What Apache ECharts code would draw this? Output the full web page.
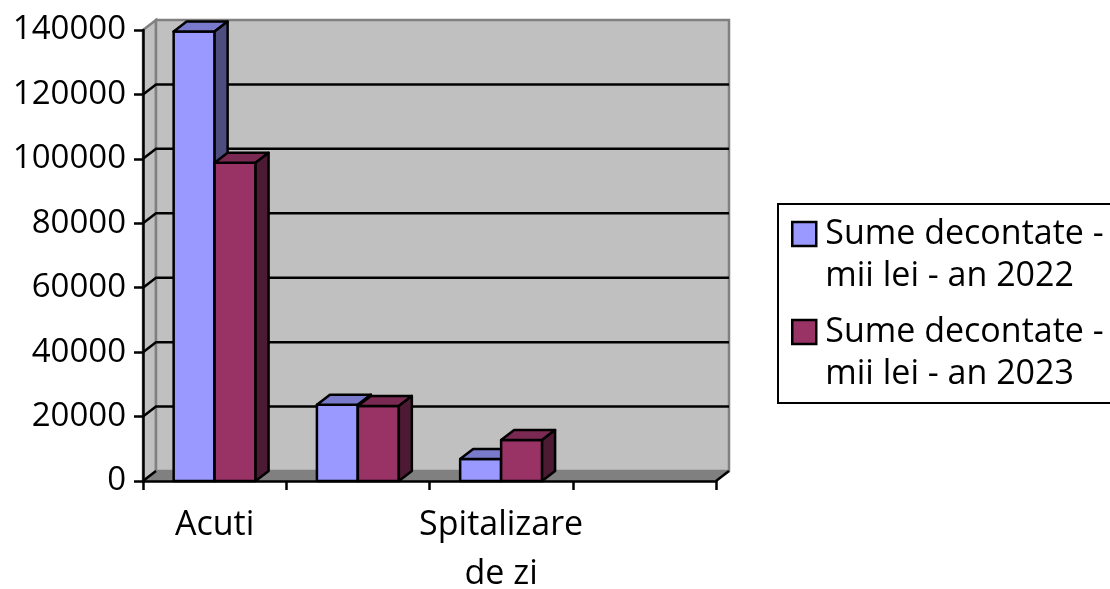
<!DOCTYPE html>
<html>
<head>
<meta charset="utf-8">
<script src="https://cdn.jsdelivr.net/npm/echarts@6/dist/echarts.min.js"></script>
<style>
  html, body { margin: 0; padding: 0; background: #ffffff; }
  #chart { width: 1110px; height: 589px; }
</style>
</head>
<body>
<div id="chart"></div>
<script>
// ---- data ----
const categories = ['Acuti', '', 'Spitalizare\nde zi', ''];
const seriesNames = ['Sume decontate - mii lei - an 2022', 'Sume decontate - mii lei - an 2023'];
const values2022 = [139500, 23700, 6800, null];
const values2023 = [98800, 23300, 12700, null];
const yMin = 0;
const yMax = 140000;
const yInterval = 20000;

// ---- styling constants ----
const FONT = 'Open Sans';
const DX = 13, DY = 10;        // pseudo-3D depth offset
const BAR_FRAC = 0.286;        // bar front width as fraction of category width
const palette = [
  { front: '#9999FF', top: '#7A7ACC', side: '#4D4D80' },
  { front: '#993366', top: '#7A2952', side: '#4D1A33' }
];

function toData(arr) {
  const out = [];
  arr.forEach(function (v, i) { if (v !== null && v !== undefined) out.push([i, v]); });
  return out;
}

function renderWall(params, api) {
  const cs = params.coordSys;
  const L = cs.x, T = cs.y, R = cs.x + cs.width, B = cs.y + cs.height;
  const ch = [];
  ch.push({ type: 'polygon', shape: { points: [[L, T], [L + DX, T - DY], [L + DX, B - DY], [L, B]] },
            style: { fill: '#C0C0C0', stroke: '#808080', lineWidth: 2.5 } });
  ch.push({ type: 'rect', shape: { x: L + DX, y: T - DY, width: cs.width, height: cs.height },
            style: { fill: '#C0C0C0', stroke: '#808080', lineWidth: 2.5 } });
  for (let v = yMin + yInterval; v < yMax; v += yInterval) {
    const y = api.coord([0, v])[1];
    ch.push({ type: 'polyline', shape: { points: [[L, y], [L + DX, y - DY], [R + DX, y - DY]] },
              style: { stroke: '#000', lineWidth: 2.5, fill: null } });
  }
  ch.push({ type: 'polygon', shape: { points: [[L, B], [L + DX, B - DY], [R + DX, B - DY], [R, B]] },
            style: { fill: '#808080', stroke: '#808080', lineWidth: 1 } });
  ch.push({ type: 'line', shape: { x1: L, y1: B, x2: L + DX, y2: B - DY }, style: { stroke: '#000', lineWidth: 2.5 } });
  ch.push({ type: 'line', shape: { x1: R, y1: B, x2: R + DX, y2: B - DY }, style: { stroke: '#000', lineWidth: 2.5 } });
  return { type: 'group', children: ch };
}

function makeBarRenderer(idx) {
  const col = palette[idx];
  return function (params, api) {
    const cat = api.value(0), val = api.value(1);
    if (isNaN(val)) return null;
    const base = api.coord([cat, 0]);
    const top = api.coord([cat, val]);
    const w = api.size([1, 0])[0] * BAR_FRAC;
    const x0 = idx === 0 ? base[0] - w : base[0];
    const x1 = x0 + w;
    const y0 = top[1], y1 = base[1];
    const st = { stroke: '#000', lineWidth: 2.5, lineJoin: 'round' };
    return {
      type: 'group',
      children: [
        { type: 'polygon', shape: { points: [[x0, y0], [x1, y0], [x1, y1], [x0, y1]] },
          style: Object.assign({ fill: col.front }, st) },
        { type: 'polygon', shape: { points: [[x0, y0], [x0 + DX, y0 - DY], [x1 + DX, y0 - DY], [x1, y0]] },
          style: Object.assign({ fill: col.top }, st) },
        { type: 'polygon', shape: { points: [[x1, y0], [x1 + DX, y0 - DY], [x1 + DX, y1 - DY], [x1, y1]] },
          style: Object.assign({ fill: col.side }, st) }
      ]
    };
  };
}

const chart = echarts.init(document.getElementById('chart'), null, { renderer: 'canvas' });
chart.setOption({
  backgroundColor: '#ffffff',
  animation: false,
  textStyle: { fontFamily: FONT },
  grid: { left: 143, right: 394, top: 30, bottom: 108, containLabel: false, outerBoundsMode: 'none' },
  xAxis: {
    type: 'category',
    data: categories,
    boundaryGap: true,
    z: 5,
    axisLine: { show: true, lineStyle: { color: '#000', width: 2.5 } },
    axisTick: { show: true, interval: 0, length: 9, lineStyle: { color: '#000', width: 2.5 } },
    axisLabel: { interval: 0, margin: 20, color: '#000', fontSize: 34, lineHeight: 49, fontFamily: FONT },
    splitLine: { show: false }
  },
  yAxis: {
    type: 'value',
    min: yMin, max: yMax, interval: yInterval,
    z: 5,
    axisLine: { show: true, lineStyle: { color: '#000', width: 2.5 } },
    axisTick: { show: true, length: 9, lineStyle: { color: '#000', width: 2.5 } },
    axisLabel: { margin: 17, color: '#000', fontSize: 33, fontFamily: FONT, formatter: function (v) { return String(v); } },
    splitLine: { show: false }
  },
  legend: {
    orient: 'vertical',
    left: 778, top: 204,
    padding: [9, 10, 8, 13],
    itemGap: 14,
    itemWidth: 24, itemHeight: 66,
    icon: 'path://M0 0L24 0L24 24L0 24Z M0 66',
    borderColor: '#000', borderWidth: 2,
    backgroundColor: '#ffffff',
    data: seriesNames,
    itemStyle: { borderColor: '#000', borderWidth: 2.5 },
    formatter: function (name) { return name.replace(' - mii', ' -\nmii'); },
    textStyle: { color: '#000', fontSize: 34, lineHeight: 42, fontFamily: FONT, padding: [0, 0, 0, 4] }
  },
  series: [
    { type: 'custom', name: 'wall', silent: true, z: 1, data: [[0, 0]], renderItem: renderWall },
    { type: 'custom', name: seriesNames[0], z: 3, data: toData(values2022), renderItem: makeBarRenderer(0),
      itemStyle: { color: palette[0].front, borderColor: '#000', borderWidth: 2.5 } },
    { type: 'custom', name: seriesNames[1], z: 4, data: toData(values2023), renderItem: makeBarRenderer(1),
      itemStyle: { color: palette[1].front, borderColor: '#000', borderWidth: 2.5 } }
  ]
});
</script>
</body>
</html>
